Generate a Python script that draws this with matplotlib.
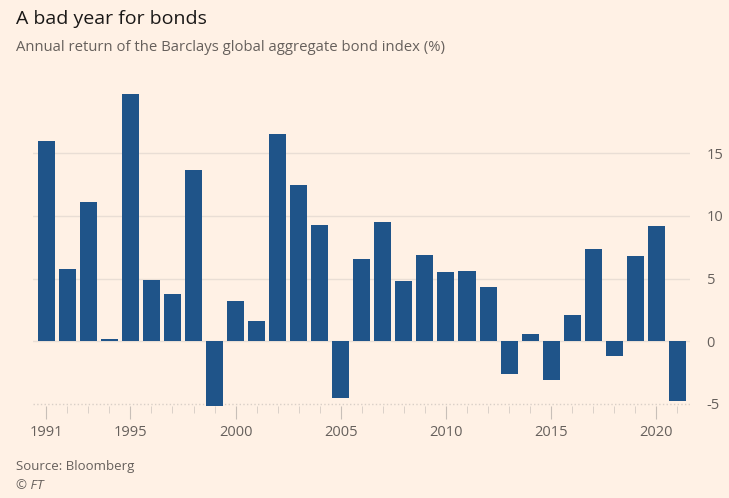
import matplotlib.pyplot as plt

years = list(range(1991, 2022))
returns = [16.0, 5.8, 11.1, 0.2, 19.7, 4.9, 3.8, 13.7, -5.2, 3.2,
           1.6, 16.5, 12.5, 9.3, -4.5, 6.6, 9.5, 4.8, 6.9, 5.5,
           5.6, 4.3, -2.6, 0.6, -3.1, 2.1, 7.4, -1.2, 6.8, 9.2, -4.8]
label_years = [1991, 1995, 2000, 2005, 2010, 2015, 2020]
y_ticks = [-5, 0, 5, 10, 15]

bg = '#fff1e5'
bar_color = '#1f5489'
text_gray = '#66605c'

plt.rcParams['font.family'] = ['Open Sans', 'DejaVu Sans']

fig = plt.figure(figsize=(7.29, 4.98), dpi=100, facecolor=bg)
ax = fig.add_axes([0.045, 0.185, 0.9015, 0.633], facecolor=bg)

ax.bar(years, returns, width=0.81, color=bar_color, zorder=3)

ax.set_xlim(1990.36, 2021.6)
ax.set_ylim(-5.16, 20)

# grid lines
for v in y_ticks:
    if v == -5:
        ax.axhline(v, color='#d9cfc7', lw=1, ls=':', zorder=1)
    else:
        ax.axhline(v, color='#e9ded5', lw=1, zorder=1)

ax.yaxis.tick_right()
ax.set_yticks(y_ticks)
ax.set_yticklabels([str(v) for v in y_ticks])
ax.tick_params(axis='y', length=0, pad=12, labelsize=10.5, labelcolor=text_gray)

ax.set_xticks(label_years)
ax.set_xticklabels([str(y) for y in label_years])
ax.set_xticks(years, minor=True)
ax.tick_params(axis='x', which='major', length=9, width=0.8, color='#c8bfb8',
               labelsize=10.5, labelcolor=text_gray, pad=5)
ax.tick_params(axis='x', which='minor', length=5, width=0.6, color='#d4cbc4')

for s in ax.spines.values():
    s.set_visible(False)

fig.text(0.022, 0.962, 'A bad year for bonds', fontsize=14, color='#1a1817',
         va='center')
fig.text(0.022, 0.905, 'Annual return of the Barclays global aggregate bond index (%)',
         fontsize=10.7, color=text_gray, va='center')
fig.text(0.022, 0.063, 'Source: Bloomberg', fontsize=9.5, color=text_gray,
         va='center')
fig.text(0.022, 0.025, '© FT', fontsize=9.5, color=text_gray, va='center',
         style='italic')

fig.savefig('out.png', dpi=100, facecolor=bg)
